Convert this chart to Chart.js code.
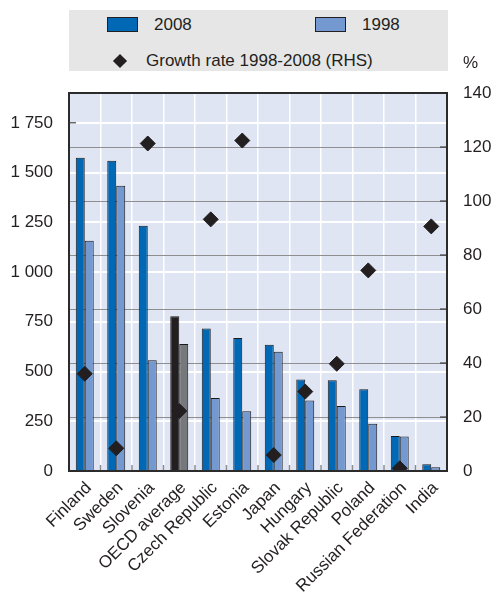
<!DOCTYPE html>
<html>
<head>
<meta charset="utf-8">
<script src="https://cdn.jsdelivr.net/npm/chart.js@4/dist/chart.umd.min.js"></script>
<style>
  body { margin: 0; background: #fff; }
  #wrap { position: relative; width: 491px; height: 592px; font-family: 'Liberation Sans', Arial, sans-serif; color: #231f20; }
  #chart { position: absolute; left: 0; top: 0; }
  .legend { position: absolute; left: 69px; top: 10px; width: 379px; height: 61px; background: #e6e6e6; font-size: 17px; }
  .sw { position: absolute; width: 29px; height: 13px; border: 1px solid #231f20; }
  .lbl { position: absolute; line-height: 20px; }
  .dia { position: absolute; width: 10px; height: 10px; background: #231f20; transform: rotate(45deg); }
  .pct { position: absolute; left: 463px; top: 53px; font-size: 17px; }
</style>
</head>
<body>
<div id="wrap">
  <canvas id="chart" width="491" height="592"></canvas>
  <div class="legend">
    <div class="sw" style="left:38px; top:7px; background:#0068b5;"></div>
    <div class="lbl" style="left:85px; top:5px;">2008</div>
    <div class="sw" style="left:246px; top:7px; background:#7399d0;"></div>
    <div class="lbl" style="left:293px; top:5px;">1998</div>
    <div class="dia" style="left:46px; top:46px;"></div>
    <div class="lbl" style="left:77px; top:41px;">Growth rate 1998-2008 (RHS)</div>
  </div>
  <div class="pct">%</div>
</div>
<script>
// Data
const countries = ['Finland', 'Sweden', 'Slovenia', 'OECD average', 'Czech Republic', 'Estonia',
  'Japan', 'Hungary', 'Slovak Republic', 'Poland', 'Russian Federation', 'India'];
const values2008 = [1574, 1559, 1233, 778, 716, 669, 634, 460, 456, 411, 176, 34];
const values1998 = [1157, 1434, 557, 638, 367, 300, 599, 354, 327, 237, 173, 19];
const growthRate = [36, 8.4, 121.3, 22.2, 93.2, 122.4, 5.9, 29.4, 39.7, 74.3, 1, 90.6];
const leftTicks = [0, 250, 500, 750, 1000, 1250, 1500, 1750];
const rightTicks = [0, 20, 40, 60, 80, 100, 120, 140];

const DARK = '#231f20';
const FONT = "'Liberation Sans', Arial, sans-serif";

const col2008 = countries.map(c => c === 'OECD average' ? '#231f20' : '#0068b5');
const col1998 = countries.map(c => c === 'OECD average' ? '#77787b' : '#7399d0');

function fmt(v) {
    return String(v).replace(/\B(?=(\d{3})+(?!\d))/g, ' ');
}

// Plot background, frame and small inner tick marks
const framePlugin = {
    id: 'frame',
    beforeDraw(chart) {
        const a = chart.chartArea, ctx = chart.ctx;
        ctx.save();
        ctx.fillStyle = '#dfe5f3';
        ctx.fillRect(a.left, a.top, a.right - a.left, a.bottom - a.top);
        ctx.restore();
    },
    afterDraw(chart) {
        const a = chart.chartArea, ctx = chart.ctx;
        const x = chart.scales.x, y = chart.scales.y, y1 = chart.scales.y1;
        ctx.save();
        // gray ticks at category boundaries
        ctx.strokeStyle = '#8c8c8c';
        ctx.lineWidth = 1.5;
        for (let i = 1; i < countries.length; i++) {
            const px = (x.getPixelForValue(i - 1) + x.getPixelForValue(i)) / 2;
            ctx.beginPath();
            ctx.moveTo(px, a.bottom);
            ctx.lineTo(px, a.bottom - 6);
            ctx.stroke();
        }
        // dark ticks on right axis
        ctx.strokeStyle = DARK;
        ctx.lineWidth = 1;
        rightTicks.slice(1, -1).forEach(v => {
            const py = y1.getPixelForValue(v);
            ctx.beginPath();
            ctx.moveTo(a.right - 7, py);
            ctx.lineTo(a.right, py);
            ctx.stroke();
        });
        const py = y.getPixelForValue(1750);
        ctx.beginPath();
        ctx.moveTo(a.left, py);
        ctx.lineTo(a.left + 7, py);
        ctx.stroke();
        // frame
        ctx.lineWidth = 2;
        ctx.strokeStyle = '#2b2b2b';
        ctx.strokeRect(a.left, a.top, a.right - a.left, a.bottom - a.top);
        ctx.restore();
    }
};

new Chart(document.getElementById('chart'), {
    type: 'bar',
    data: {
        labels: countries,
        datasets: [
            {
                type: 'line',
                label: 'Growth rate 1998-2008 (RHS)',
                data: growthRate,
                yAxisID: 'y1',
                showLine: false,
                pointStyle: 'rectRot',
                pointRadius: 7.5,
                pointBackgroundColor: DARK,
                pointBorderColor: DARK,
                pointBorderWidth: 1,
                order: 0
            },
            {
                label: '2008',
                data: values2008,
                yAxisID: 'y',
                backgroundColor: col2008,
                borderColor: '#1a1a1a',
                borderWidth: 1,
                order: 1
            },
            {
                label: '1998',
                data: values1998,
                yAxisID: 'y',
                backgroundColor: col1998,
                borderColor: '#1a1a1a',
                borderWidth: 1,
                order: 1
            }
        ]
    },
    options: {
        responsive: false,
        animation: false,
        layout: { padding: { top: 93, left: 0, right: 0, bottom: 0 } },
        datasets: { bar: { barPercentage: 1, categoryPercentage: 0.57 } },
        plugins: { legend: { display: false }, tooltip: { enabled: false } },
        scales: {
            x: {
                grid: { color: '#ffffff', lineWidth: 1.5, drawTicks: false, offset: true },
                border: { display: false },
                ticks: {
                    color: DARK, font: { family: FONT, size: 17 },
                    minRotation: 45, maxRotation: 45, padding: 7, labelOffset: 4, autoSkip: false
                },
                afterFit: s => { s.height = 121; }
            },
            y: {
                position: 'left',
                min: 0, max: 1900,
                afterBuildTicks: s => { s.ticks = leftTicks.map(v => ({ value: v })); },
                grid: { color: '#ffffff', lineWidth: 2, drawTicks: false },
                border: { display: false },
                ticks: {
                    color: DARK, font: { family: FONT, size: 17 }, padding: 16,
                    callback: v => fmt(v)
                },
                afterFit: s => { s.width = 69; }
            },
            y1: {
                position: 'right',
                min: 0, max: 140,
                afterBuildTicks: s => { s.ticks = rightTicks.map(v => ({ value: v })); },
                grid: { color: '#8e8e8e', lineWidth: 1, drawTicks: false },
                border: { display: false },
                ticks: {
                    color: DARK, font: { family: FONT, size: 17 }, padding: 16
                },
                afterFit: s => { s.width = 44; }
            }
        }
    },
    plugins: [framePlugin]
});
</script>
</body>
</html>
